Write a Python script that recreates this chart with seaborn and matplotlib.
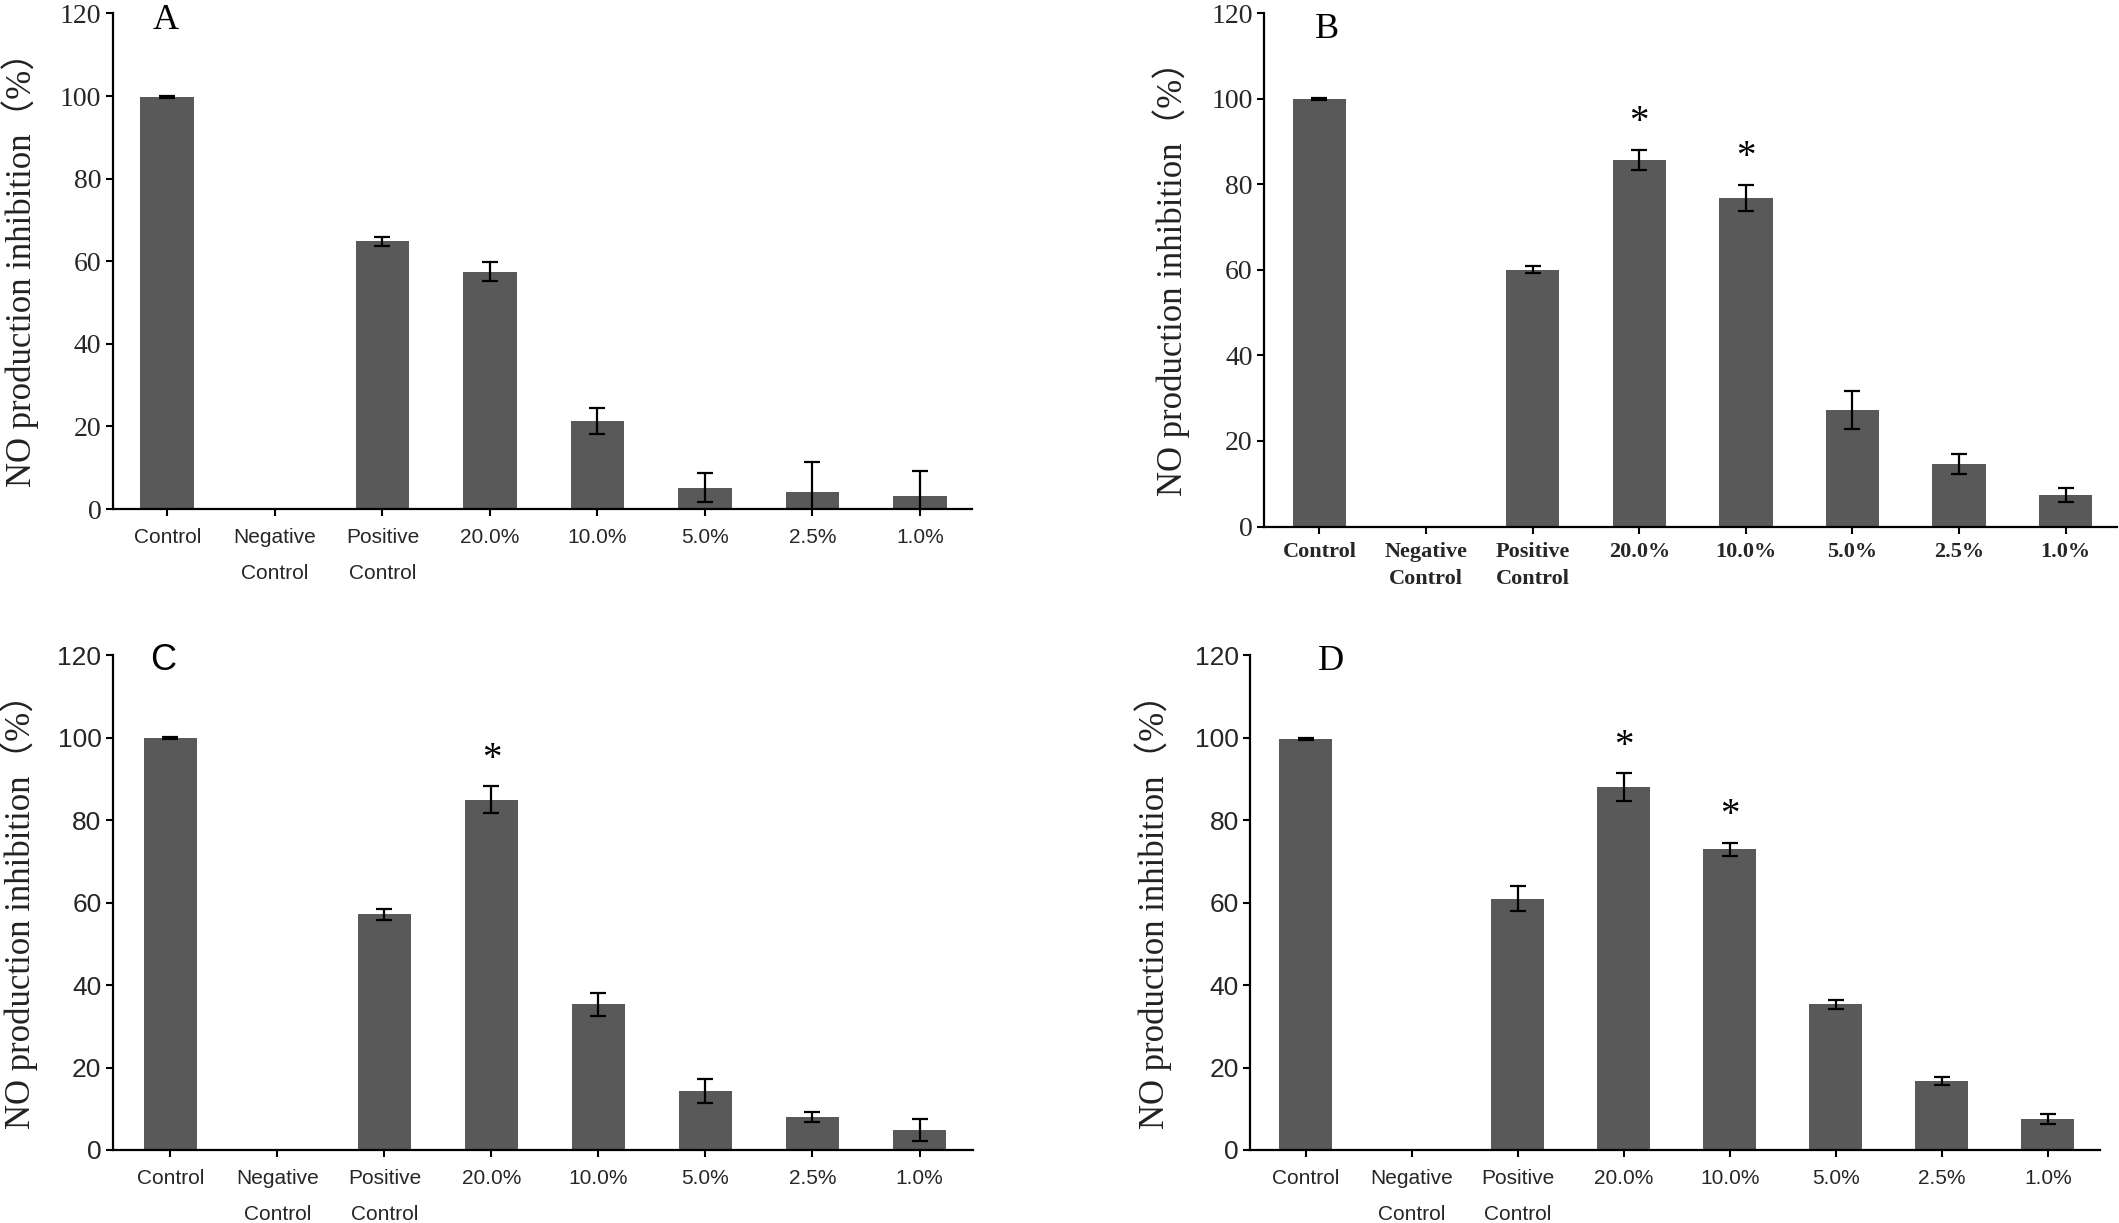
import numpy as np
import pandas as pd
import matplotlib
matplotlib.use("Agg")
import matplotlib.pyplot as plt
import seaborn as sns

categories = ["Control", "Negative\nControl", "Positive\nControl", "20.0%", "10.0%", "5.0%", "2.5%", "1.0%"]

values_A = [99.8, 0, 64.8, 57.5, 21.3, 5.2, 4.2, 3.1]
errors_A = [0.3, 0, 1.0, 2.4, 3.2, 3.4, 7.1, 6.2]

values_B = [100.0, 0, 60.1, 85.8, 76.8, 27.2, 14.6, 7.4]
errors_B = [0.2, 0, 0.8, 2.3, 3.1, 4.4, 2.3, 1.6]

values_C = [100.0, 0, 57.2, 85.0, 35.3, 14.3, 8.0, 4.9]
errors_C = [0.2, 0, 1.3, 3.2, 2.8, 3.0, 1.3, 2.7]

values_D = [99.7, 0, 61.0, 88.1, 73.0, 35.3, 16.8, 7.5]
errors_D = [0.3, 0, 3.0, 3.4, 1.6, 1.1, 1.0, 1.3]

stars_A = []
stars_B = ["20.0%", "10.0%"]
stars_C = ["20.0%"]
stars_D = ["20.0%", "10.0%"]

panel_letters = ["A", "B", "C", "D"]
y_ticks = [0, 20, 40, 60, 80, 100, 120]
y_label = "NO production inhibition（%）"

sns.set_style("ticks")

SERIF = ["Liberation Serif", "DejaVu Serif", "Noto Sans CJK SC"]
SANS = ["Liberation Sans", "DejaVu Sans"]
LABEL_FONT = ["Liberation Serif", "Noto Sans CJK SC", "DejaVu Sans"]

fig = plt.figure(figsize=(21.19, 12.23), dpi=100)

panels = [
    dict(vals=values_A, errs=errors_A, stars=stars_A, rect=[0.0531, 0.5838, 0.4054, 0.4052],
         xlim=(-0.51, 7.48), tickfont=SERIF, ticksize=20, catfont=SANS, catsize=15, catweight="normal",
         catls=2.1, catpad=9, letterfont=SERIF, letter_xy=(165.6, 20.7), ylab_x=-0.1077),
    dict(vals=values_B, errs=errors_B, stars=stars_B, rect=[0.5965, 0.5695, 0.4025, 0.4195],
         xlim=(-0.52, 7.48), tickfont=SERIF, ticksize=20, catfont=SERIF, catsize=16, catweight="bold",
         catls=1.45, catpad=6, letterfont=SERIF, letter_xy=(1327, 30), ylab_x=-0.109),
    dict(vals=values_C, errs=errors_C, stars=stars_C, rect=[0.0531, 0.0597, 0.4061, 0.4044],
         xlim=(-0.54, 7.5), tickfont=SANS, ticksize=19, catfont=SANS, catsize=15, catweight="normal",
         catls=2.1, catpad=9, letterfont=SANS, letter_xy=(163, 660.5), ylab_x=-0.1087),
    dict(vals=values_D, errs=errors_D, stars=stars_D, rect=[0.5899, 0.0597, 0.4011, 0.4044],
         xlim=(-0.525, 7.49), tickfont=SANS, ticksize=19, catfont=SANS, catsize=15, catweight="normal",
         catls=2.1, catpad=9, letterfont=SERIF, letter_xy=(1331, 662), ylab_x=-0.114),
]

W, H = 2119, 1223
bar_color = "#595959"

for letter, p in zip(panel_letters, panels):
    ax = fig.add_axes(p["rect"])
    df = pd.DataFrame({"group": categories, "value": p["vals"]})
    sns.barplot(data=df, x="group", y="value", order=categories, color=bar_color,
                saturation=1, width=0.5, ax=ax, errorbar=None, edgecolor="none")
    xpos = np.arange(len(categories))
    vals = np.array(p["vals"])
    errs = np.array(p["errs"])
    mask = vals > 0
    ax.errorbar(xpos[mask], vals[mask], yerr=errs[mask], fmt="none", ecolor="black",
                elinewidth=1.6, capsize=6, capthick=1.6)
    for s in p["stars"]:
        i = categories.index(s)
        ax.text(i, vals[i] + errs[i] + 6.5, "*", ha="center", va="center",
                fontsize=28, family=SERIF, color="black")
    ax.set_ylim(0, 120)
    ax.set_xlim(*p["xlim"])
    ax.set_yticks(y_ticks)
    ax.set_yticklabels([str(t) for t in y_ticks], family=p["tickfont"], fontsize=p["ticksize"])
    ax.set_xticks(xpos)
    ax.set_xticklabels(categories, family=p["catfont"], fontsize=p["catsize"],
                       fontweight=p["catweight"], linespacing=p["catls"])
    ax.tick_params(axis="x", length=5, width=1.5, pad=p["catpad"], color="black")
    ax.tick_params(axis="y", length=5, width=1.5, pad=3, color="black")
    ax.set_xlabel("")
    ax.set_ylabel(y_label, family=LABEL_FONT, fontsize=25, color="#222222")
    lab = ax.yaxis.label
    lab.set_rotation_mode("default")
    lab.set_ha("center")
    lab.set_va("center")
    ax.yaxis.set_label_coords(p["ylab_x"], 0.5)
    for side in ["top", "right"]:
        ax.spines[side].set_visible(False)
    for side in ["left", "bottom"]:
        ax.spines[side].set_linewidth(1.6)
        ax.spines[side].set_color("black")
    lx, ly = p["letter_xy"]
    fig.text(lx / W, 1 - ly / H, letter, ha="center", va="center",
             family=p["letterfont"], fontsize=26, color="black")

fig.savefig("out.png", dpi=100, facecolor="white")
